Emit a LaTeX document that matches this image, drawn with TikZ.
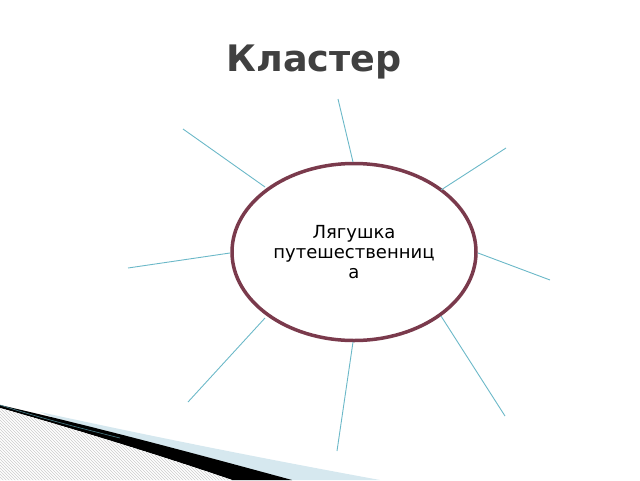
\documentclass[tikz,border=0pt]{standalone}
\usepackage{fontspec}
\setmainfont{DejaVu Sans}
\usetikzlibrary{patterns,shapes.geometric}
\definecolor{ray}{HTML}{6BB8C8}
\definecolor{rim}{HTML}{7A3A4C}
\definecolor{ttl}{HTML}{404040}
\definecolor{lblue}{HTML}{D6E8EF}
\begin{document}
\begin{tikzpicture}[x=1pt,y=-1pt,
  raystyle/.style={draw=ray,line width=0.9pt},
  hub/.style={ellipse,draw=rim,line width=3.5pt,minimum width=244pt,minimum height=177pt,inner sep=0pt,align=center,font=\fontsize{18}{20}\selectfont},
  leaf/.style={inner sep=0pt,minimum size=0pt}]
\useasboundingbox (0,0) rectangle (640,480);
% decoration
\fill[lblue] (40,412) .. controls (150,436) and (260,458) .. (380,480) -- (200,480) -- cycle;
\fill[black] (0,405) .. controls (100,428) and (200,455) .. (292,480) -- (232,480) .. controls (150,452) and (60,425) .. (0,408) -- cycle;
\fill[white] (0,408) .. controls (60,425) and (150,452) .. (232,480) -- (0,480) -- cycle;
\fill[pattern=north west lines,pattern color=gray!40] (0,408) .. controls (60,425) and (150,452) .. (232,480) -- (0,480) -- cycle;
\draw[ray!70!black,line width=0.6pt] (0,405) .. controls (40,418) and (80,428) .. (120,438);
% title
\node[text=ttl,font=\fontsize{36.5}{36.5}\bfseries\selectfont] (title) at (314,62) {Кластер};
% hub
\node[hub] (h) at (354,252) {Лягушка\\путешественниц\\а};
% rays
\coordinate (r1) at (338,99);
\coordinate (r2) at (506,148);
\coordinate (r3) at (550,280);
\coordinate (r4) at (505,416);
\coordinate (r5) at (337,451);
\coordinate (r6) at (188,402);
\coordinate (r7) at (128,268);
\coordinate (r8) at (183,129);
\draw[raystyle] (r1) -- (353,162);
\draw[raystyle] (r2) -- (441,190);
\draw[raystyle] (r3) -- (478,253);
\draw[raystyle] (r4) -- (441,316);
\draw[raystyle] (r5) -- (353,342);
\draw[raystyle] (r6) -- (265,318);
\draw[raystyle] (r7) -- (230,253);
\draw[raystyle] (r8) -- (265,187);
\end{tikzpicture}
\end{document}
